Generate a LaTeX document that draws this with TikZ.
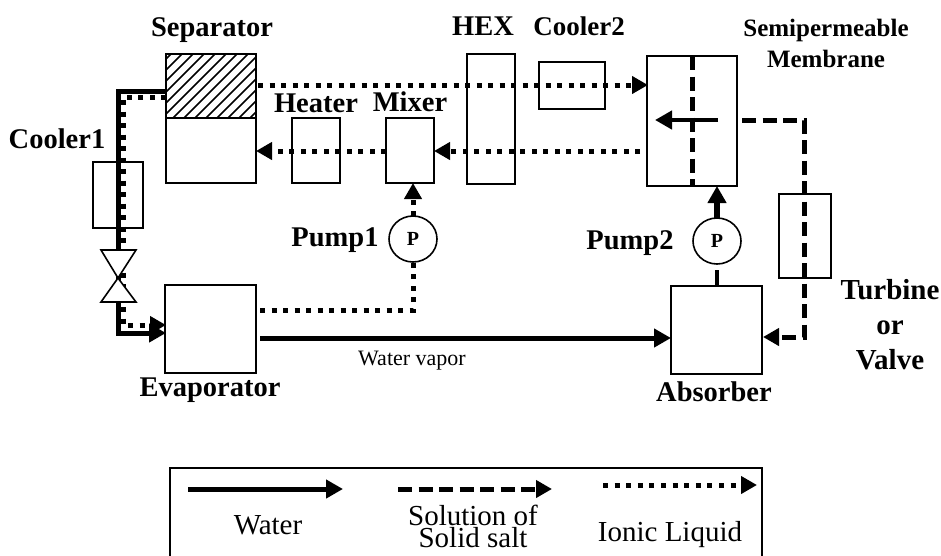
\documentclass[tikz,border=0pt]{standalone}
\usepackage{fontspec}
\setmainfont{Liberation Serif}
\usetikzlibrary{arrows.meta,shapes.geometric}
\tikzset{
 box/.style={draw=black,line width=1.6pt,fill=white,minimum width=#1,inner sep=0pt,outer sep=0pt,anchor=north west},
 lab/.style={font=\fontsize{28.5}{30}\selectfont\bfseries,align=center,inner sep=0pt},
 leglab/.style={font=\fontsize{29}{22}\selectfont,align=center,inner sep=0pt},
 water/.style={line width=5pt,-{Triangle[length=17pt,width=18pt]}},
 waterline/.style={line width=5.5pt},
 ionic/.style={line width=5pt,dash pattern=on 5pt off 6.5pt,-{Triangle[length=16pt,width=17pt]}},
 ionicline/.style={line width=5pt,dash pattern=on 5pt off 6.5pt},
 salt/.style={line width=5pt,dash pattern=on 14pt off 6.5pt,-{Triangle[length=16pt,width=17pt]}},
 saltline/.style={line width=5pt,dash pattern=on 14pt off 6.5pt},
 pump/.style={ellipse,draw=black,line width=1.6pt,minimum width=48pt,minimum height=46pt,inner sep=0pt,outer sep=0pt,fill=white,font=\fontsize{20}{20}\selectfont\bfseries},
}
\begin{document}
\begin{tikzpicture}[x=1pt,y=-1pt]
\useasboundingbox (0,0) rectangle (941,555);
% equipment
\node[box=90pt,minimum height=129pt] (sep) at (166,54) {};
\node[box=48pt,minimum height=130pt] (hex) at (467,54) {};
\node[box=66pt,minimum height=47pt] (c2) at (539,62) {};
\node[box=90pt,minimum height=130pt] (mem) at (647,56) {};
\node[box=48pt,minimum height=65pt] (heat) at (292,118) {};
\node[box=48pt,minimum height=65pt] (mix) at (386,118) {};
\node[box=50pt,minimum height=66pt] (c1) at (93,162) {};
\node[box=91pt,minimum height=88pt] (evap) at (165,285) {};
\node[box=91pt,minimum height=88pt] (abs) at (671,286) {};
\node[box=52pt,minimum height=84pt] (turb) at (779,194) {};
\node[pump] (p1) at (413,239) {P};
\node[pump] (p2) at (717,241) {P};
% separator hatch
\begin{scope}
\clip (166,54) rectangle (256,118);
\foreach \k in {0,...,14}{\draw[line width=1.5pt] (166-70+\k*11,118) -- ++(70,-70);}
\end{scope}
\draw[line width=1.6pt] (166,54) rectangle (256,183);
\coordinate (hl) at (166,118);\coordinate (hr) at (256,118);
\draw[line width=1.6pt] (hl) -- (hr);
% left loop
\coordinate (wa) at (118,91);\coordinate (wb) at (118,333);
\coordinate (ia) at (123,97);\coordinate (ib) at (123,325);
\draw[ionic] (166,97) -- (ia) -- (ib) -- (166,325);
\draw[water,line join=miter] (166,91) -- (wa) -- (wb) -- (166,333);
% valve
\coordinate (vt) at (118,278);
\draw[line width=1.6pt,fill=white] (vt) -- (101,250) -- (136,250) -- cycle;
\draw[line width=1.6pt,fill=white] (vt) -- (101,302) -- (136,302) -- cycle;
% top ionic
\draw[ionic] (258,85) -- (648,85);
\draw[ionic] (640,151) -- (434,151);
\draw[ionic] (386,151) -- (256,151);
\draw[ionicline] (260,310) -- (413,310) -- (p1.south);
\draw[ionic] (p1.north) -- (p1 |- mix.south);
\draw[water] (260,338) -- (abs.west |- 0,338);
\coordinate (pg) at (717,270);
\draw[waterline,line width=4.5pt] (abs.north -| p2) -- (pg);
\draw[water,line width=5.5pt] (p2.north) -- (mem.south -| p2);
% membrane
\draw[saltline] (692,56) -- (692,186);
\draw[water,line width=4.5pt] (718,120) -- (655,120);
% dashed path
\draw[salt] (742,120) -- (804,120) -- (804,337) -- (763,337);
% labels
\node[lab] (lsep) at (212,30) {Separator};
\node[lab] (lhex) at (483,26) {HEX};
\node[lab,font=\fontsize{27}{30}\selectfont\bfseries] (lc2) at (579,26) {Cooler2};
\node[lab,font=\fontsize{25}{31}\selectfont\bfseries] (lmem) at (826,43) {Semipermeable\\Membrane};
\node[lab] (lheat) at (316,103) {Heater};
\node[lab] (lmix) at (410,102) {Mixer};
\node[lab] (lc1) at (57,139) {Cooler1};
\node[lab] (lp1) at (335,240) {Pump1};
\node[lab] (lp2) at (630,243) {Pump2};
\node[lab] (levap) at (210,390) {Evaporator};
\node[lab] (labs) at (714,392) {Absorber};
\node[lab,font=\fontsize{29}{35}\selectfont\bfseries] (lturb) at (890,325) {Turbine\\or\\Valve};
\node[font=\fontsize{22}{24}\selectfont,inner sep=0pt] (lvap) at (412,361) {Water vapor};
% legend (its lower edge is cut off by the picture's border)
\node[box=592pt,minimum height=95pt,line width=1.8pt] (leg) at (170,468) {};
\coordinate (w1) at (188,489);\coordinate (w2) at (343,489);
\coordinate (s1) at (398,489);\coordinate (s2) at (552,489);
\coordinate (i1) at (603,485);\coordinate (i2) at (757,485);
\draw[water] (w1) -- (w2);
\draw[salt] (s1) -- (s2);
\draw[ionic,dash pattern=on 5pt off 6.6pt] (i1) -- (i2);
\node[leglab] (lw) at (268,525) {Water};
\node[leglab] (ls) at (473,526) {Solution of\\Solid salt};
\node[leglab] (li) at (670,535) {Ionic Liquid};
\end{tikzpicture}
\end{document}
